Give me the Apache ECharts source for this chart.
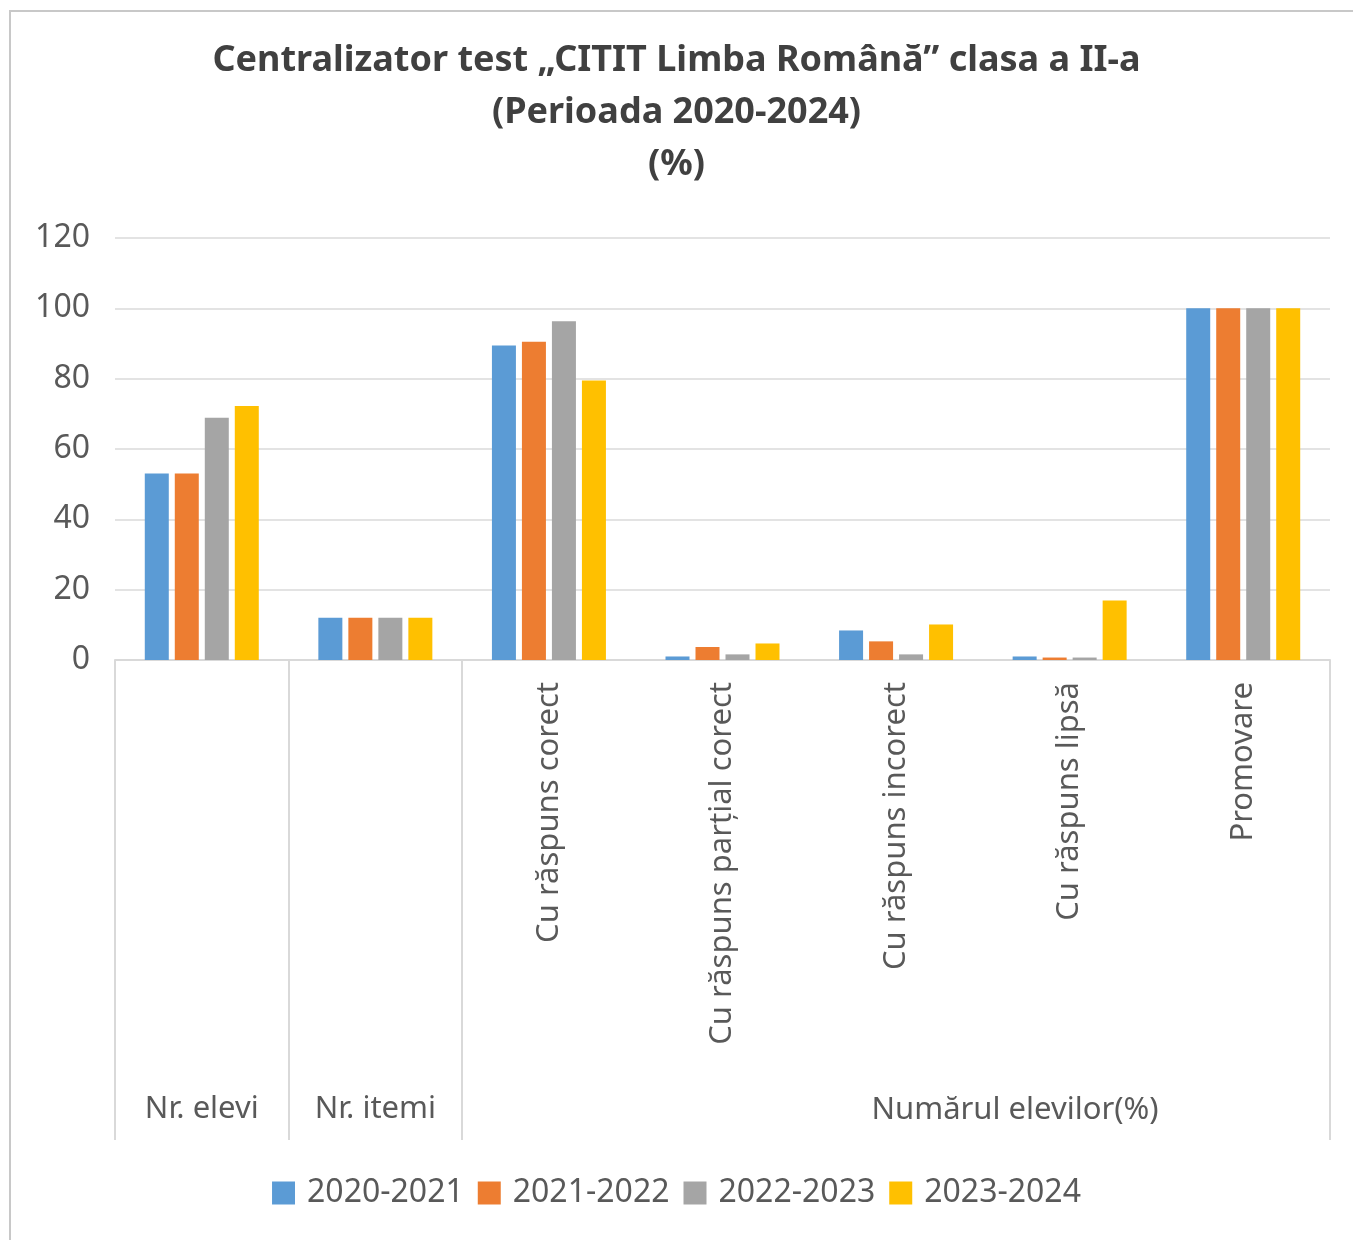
<!DOCTYPE html>
<html lang="ro">
<head>
    <meta charset="UTF-8">
    <title>Centralizator test CITIT</title>
    <style>
        html, body { margin: 0; padding: 0; background: #fff; }
    </style>
</head>
<body>
<div id="main" style="width: 1353px;height: 1240px;"></div>
<script src="https://cdn.jsdelivr.net/npm/echarts@6/dist/echarts.min.js"></script>
<script type="text/javascript">
    // categorii
    var categories = ['Nr. elevi', 'Nr. itemi', 'Cu răspuns corect', 'Cu răspuns parțial corect',
        'Cu răspuns incorect', 'Cu răspuns lipsă', 'Promovare'];
    // etichete de grup sub axa
    var groupLabels = ['Nr. elevi', 'Nr. itemi', '', '', '', '', ''];
    var groupTitle = 'Numărul elevilor(%)';
    var years = ['2020-2021', '2021-2022', '2022-2023', '2023-2024'];
    var colors = ['#5b9bd5', '#ed7d31', '#a5a5a5', '#ffc000'];

    var v2020 = [53, 12, 89.4, 1.0, 8.4, 1.0, 100];
    var v2021 = [53, 12, 90.5, 3.7, 5.3, 0.7, 100];
    var v2022 = [68.9, 12, 96.3, 1.6, 1.6, 0.7, 100];
    var v2023 = [72.2, 12, 79.5, 4.7, 10.1, 16.9, 100];
    var values = [v2020, v2021, v2022, v2023];

    var yTicks = [0, 120, 20];

    var font = '"Noto Sans", sans-serif';
    var myChart = echarts.init(document.getElementById('main'));

    var series = [];
    for (var i = 0; i < years.length; i++) {
        series.push({
            name: years[i],
            type: 'bar',
            barWidth: 24,
            barGap: '25%',
            itemStyle: { color: colors[i] },
            data: values[i]
        });
    }

    var option = {
        animation: false,
        color: colors,
        textStyle: { fontFamily: font },
        title: {
            text: 'Centralizator test „CITIT Limba Română” clasa a II-a\n(Perioada 2020-2024)\n(%)',
            left: 'center',
            top: 30,
            textStyle: {
                fontFamily: font,
                fontSize: 36,
                fontWeight: 'bold',
                color: '#404040',
                lineHeight: 52
            }
        },
        legend: {
            data: years,
            bottom: 26,
            left: 'center',
            icon: 'rect',
            itemWidth: 23,
            itemHeight: 23,
            itemGap: 14,
            textStyle: { fontFamily: font, fontSize: 32, color: '#595959', padding: [0, 0, 0, 7] }
        },
        grid: {
            left: 115,
            right: 23,
            top: 238,
            bottom: 580
        },
        xAxis: [
            {
                type: 'category',
                data: categories,
                axisLine: { show: true, lineStyle: { color: '#d9d9d9', width: 2 } },
                axisTick: { show: false },
                axisLabel: {
                    rotate: 90,
                    margin: 22,
                    interval: 0,
                    fontFamily: font,
                    fontSize: 31,
                    color: '#595959',
                    formatter: function (val, idx) { return idx < 2 ? '' : val; }
                }
            },
            {
                type: 'category',
                data: groupLabels,
                position: 'bottom',
                axisLine: { show: false },
                axisTick: {
                    show: true,
                    length: 480,
                    lineStyle: { color: '#d9d9d9', width: 2 },
                    interval: function (idx) { return idx < 3; }
                },
                axisLabel: {
                    interval: 0,
                    margin: 434,
                    fontFamily: font,
                    fontSize: 31,
                    color: '#595959'
                }
            }
        ],
        yAxis: {
            type: 'value',
            min: yTicks[0],
            max: yTicks[1],
            interval: yTicks[2],
            axisLine: { show: false },
            axisTick: { show: false },
            splitLine: { lineStyle: { color: '#e3e3e3', width: 2 } },
            axisLabel: {
                margin: 25,
                fontFamily: font,
                fontSize: 32,
                color: '#595959'
            }
        },
        graphic: [
            {
                type: 'rect',
                shape: { x: 10, y: 11, width: 1400, height: 1300 },
                style: { fill: 'none', stroke: '#c8c8c8', lineWidth: 2 },
                silent: true
            },
            {
                type: 'text',
                x: 1015,
                y: 1110,
                style: {
                    text: groupTitle,
                    fontFamily: font,
                    fontSize: 31,
                    fill: '#595959',
                    align: 'center',
                    verticalAlign: 'middle'
                }
            }
        ],
        series: series
    };
    myChart.setOption(option);
</script>
</body>
</html>
